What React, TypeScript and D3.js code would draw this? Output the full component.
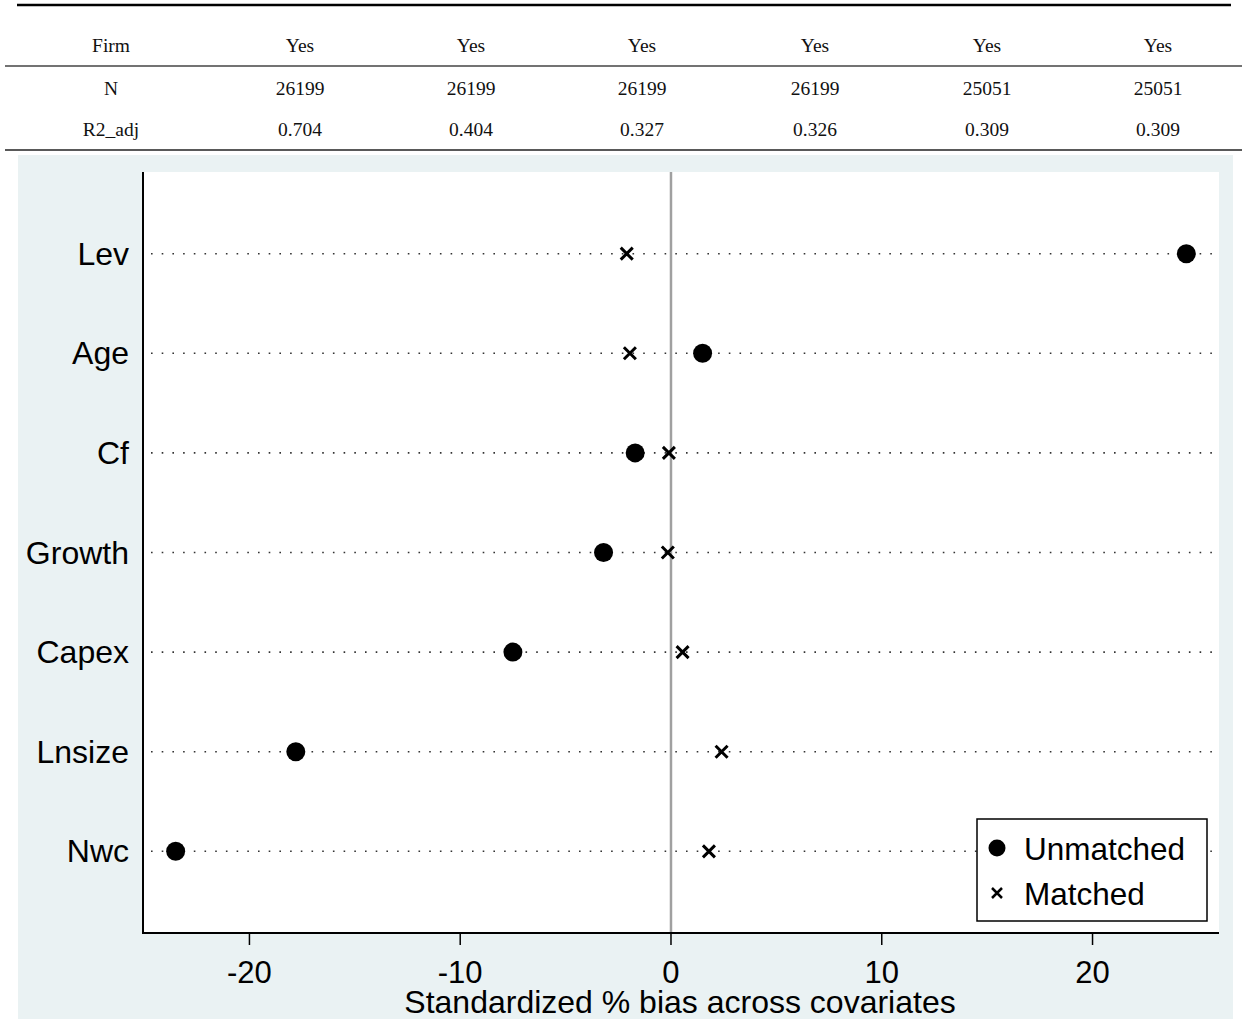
import React from "react";
import * as d3 from "d3";

const tableRows = ["Firm", "N", "R2_adj"];
const tableCols = [
  ["Yes", "Yes", "Yes", "Yes", "Yes", "Yes"],
  ["26199", "26199", "26199", "26199", "25051", "25051"],
  ["0.704", "0.404", "0.327", "0.326", "0.309", "0.309"],
];

const covariates = ["Lev", "Age", "Cf", "Growth", "Capex", "Lnsize", "Nwc"];
const unmatched = [24.45, 1.5, -1.7, -3.2, -7.5, -17.8, -23.5];
const matched = [-2.1, -1.95, -0.1, -0.15, 0.55, 2.4, 1.8];
const xTicks = [-20, -10, 0, 10, 20];

const W = 1242;
const H = 1019;

export default function App() {
  const plotL = 143, plotR = 1219, plotT = 172, plotB = 933;
  const x = d3.scaleLinear().domain([-25.05, 26.0]).range([plotL, plotR]);
  const y = d3.scalePoint<string>().domain(covariates).range([plotT, plotB]).padding(0.82);
  const colX = [111, 300, 471, 642, 815, 987, 1158];
  const rowY = [52, 95, 136];
  const sans = "Arial, 'Liberation Sans', Helvetica, sans-serif";
  const serif = "'Times New Roman', 'Liberation Serif', serif";
  const xs = 6;

  return (
    <svg width={W} height={H} style={{ position: "absolute", left: 0, top: 0, display: "block" }}>
      <rect x={0} y={0} width={W} height={H} fill="#ffffff" />
      {/* table */}
      <line x1={17} x2={1231} y1={5} y2={5} stroke="#000" strokeWidth={2.5} />
      <line x1={5} x2={1242} y1={66} y2={66} stroke="#444" strokeWidth={1.5} />
      <line x1={5} x2={1242} y1={150} y2={150} stroke="#222" strokeWidth={1.5} />
      {tableRows.map((r, i) => (
        <g key={r}>
          <text x={colX[0]} y={rowY[i]} fontFamily={serif} fontSize={19.5} textAnchor="middle" fill="#111">
            {r}
          </text>
          {tableCols[i].map((v, j) => (
            <text key={j} x={colX[j + 1]} y={rowY[i]} fontFamily={serif} fontSize={19.5} textAnchor="middle" fill="#111">
              {v}
            </text>
          ))}
        </g>
      ))}
      {/* graph background */}
      <rect x={18} y={155} width={1215} height={864} fill="#eaf2f3" />
      <rect x={plotL} y={plotT} width={plotR - plotL} height={plotB - plotT} fill="#ffffff" />
      {/* dotted lines */}
      {covariates.map((c) => (
        <line key={c} x1={plotL + 8} x2={plotR} y1={y(c)} y2={y(c)} stroke="#333" strokeWidth={1.6} strokeDasharray="1.6 9.1" />
      ))}
      {/* zero line */}
      <line x1={x(0)} x2={x(0)} y1={plotT} y2={plotB} stroke="#a0a0a0" strokeWidth={2.5} />
      {/* axes */}
      <line x1={plotL} x2={plotL} y1={plotT} y2={plotB + 1} stroke="#000" strokeWidth={2} />
      <line x1={plotL} x2={plotR} y1={plotB} y2={plotB} stroke="#000" strokeWidth={2} />
      {xTicks.map((t) => (
        <g key={t}>
          <line x1={x(t)} x2={x(t)} y1={plotB} y2={plotB + 12} stroke="#000" strokeWidth={1.5} />
          <text x={x(t)} y={plotB + 50} fontFamily={sans} fontSize={31} textAnchor="middle" fill="#000">
            {t}
          </text>
        </g>
      ))}
      <text x={680} y={1013} fontFamily={sans} fontSize={32} textAnchor="middle" fill="#000">
        Standardized % bias across covariates
      </text>
      {covariates.map((c) => (
        <text key={c} x={129} y={(y(c) as number) + 11} fontFamily={sans} fontSize={32} textAnchor="end" fill="#000">
          {c}
        </text>
      ))}
      {/* markers */}
      {covariates.map((c, i) => (
        <circle key={c} cx={x(unmatched[i])} cy={y(c)} r={9.5} fill="#000" />
      ))}
      {covariates.map((c, i) => {
        const cx = x(matched[i]);
        const cy = y(c) as number;
        return (
          <path key={c} d={`M${cx - xs},${cy - xs}L${cx + xs},${cy + xs}M${cx - xs},${cy + xs}L${cx + xs},${cy - xs}`} stroke="#000" strokeWidth={3} />
        );
      })}
      {/* legend */}
      <rect x={977} y={819} width={230} height={102} fill="#fff" stroke="#000" strokeWidth={1.5} />
      <circle cx={997} cy={848} r={8.5} fill="#000" />
      <text x={1024} y={860} fontFamily={sans} fontSize={31.5} fill="#000">Unmatched</text>
      <path d={`M${997 - 5},${893 - 5}L${997 + 5},${893 + 5}M${997 - 5},${893 + 5}L${997 + 5},${893 - 5}`} stroke="#000" strokeWidth={2.5} />
      <text x={1024} y={905} fontFamily={sans} fontSize={31.5} fill="#000">Matched</text>
    </svg>
  );
}
